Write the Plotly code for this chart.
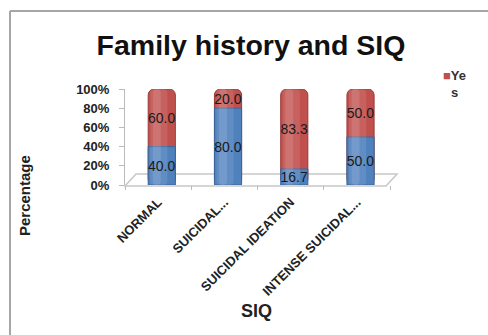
import plotly.graph_objects as go

# SIQ categories and family-history split (percent of each group)
categories = ["NORMAL", "SUICIDAL...", "SUICIDAL IDEATION", "INTENSE SUICIDAL..."]
no_history = [40.0, 80.0, 16.7, 50.0]
yes_history = [60.0, 20.0, 83.3, 50.0]
y_ticks = [0, 20, 40, 60, 80, 100]

W, H = 488, 335
L, R, T, B = 125, 98, 89, 150
PW, PH = W - L - R, H - T - B


def px(x):
    return (x - L) / PW


def py(y):
    return (H - B - y) / PH


BLUE, BLUE_EDGE = "#4F81BD", "#3A6699"
RED, RED_EDGE = "#C0504D", "#9A3A38"
FONT = "Liberation Sans, Arial, sans-serif"
BAR_W, BAR_OFF = 0.41, -0.15
RADIUS = 6

totals = [n + y for n, y in zip(no_history, yes_history)]
zeros = [0] * len(categories)

fig = go.Figure()
# cylinder bodies: full-height red column, blue "No" part drawn over its lower end
fig.add_trace(go.Bar(
    x=categories, y=totals, base=zeros, showlegend=False,
    width=BAR_W, offset=BAR_OFF,
    marker=dict(color=RED, line=dict(color=RED_EDGE, width=1), cornerradius=RADIUS),
    hoverinfo="skip",
))
fig.add_trace(go.Bar(
    x=categories, y=no_history, base=zeros, showlegend=False,
    width=BAR_W, offset=BAR_OFF,
    marker=dict(color=BLUE, line=dict(color=BLUE_EDGE, width=1), cornerradius=0),
    hoverinfo="skip",
))
# soft highlight bands give the cylinders their rounded look
for w, off, alpha in [(0.26, -0.12, 0.10), (0.12, -0.08, 0.12)]:
    fig.add_trace(go.Bar(
        x=categories, y=totals, base=zeros, showlegend=False,
        width=w, offset=off,
        marker=dict(color=f"rgba(255,255,255,{alpha})", line=dict(width=0), cornerradius=4),
        hoverinfo="skip",
    ))
# value labels centred on each segment
for name, vals, base in [("No", no_history, zeros), ("Yes", yes_history, no_history)]:
    fig.add_trace(go.Bar(
        x=categories, y=vals, base=base, name=name, showlegend=False,
        width=BAR_W, offset=BAR_OFF,
        marker=dict(color="rgba(0,0,0,0)", line=dict(width=0)),
        text=[f"{v:.1f}" for v in vals],
        textposition="inside", insidetextanchor="middle",
        constraintext="none", textangle=0,
        insidetextfont=dict(family=FONT, size=14, color="#1a1a1a"),
    ))

shapes = [
    # outer frame (top and left edges)
    dict(type="line", xref="paper", yref="paper", x0=px(10), x1=px(W), y0=py(11), y1=py(11),
         line=dict(color="#A6A6A6", width=2)),
    dict(type="line", xref="paper", yref="paper", x0=px(10), x1=px(10), y0=py(11), y1=py(H),
         line=dict(color="#A6A6A6", width=2)),
    # floor of the 3-D plot
    dict(type="path", xref="paper", yref="paper", layer="below",
         path=f"M{px(125)},{py(186)} L{px(136)},{py(174)} L{px(397)},{py(174)} L{px(386)},{py(186)} Z",
         line=dict(color="#C8C8C8", width=1.5), fillcolor="rgba(0,0,0,0)"),
]

annotations = [
    dict(text="<b>Percentage</b>", x=px(24), y=py(196), xref="paper", yref="paper",
         xanchor="center", yanchor="middle",
         textangle=-90, showarrow=False, font=dict(family=FONT, size=15, color="#222")),
    dict(text="<b>SIQ</b>", x=px(256), y=py(311), xref="paper", yref="paper",
         xanchor="center", yanchor="middle",
         showarrow=False, font=dict(family=FONT, size=18, color="#222")),
    dict(text="<span style='color:#C0504D'>■</span><b>Ye<br>s</b>", x=px(441), y=py(66),
         xref="paper", yref="paper", xanchor="left", yanchor="top", align="center",
         showarrow=False, font=dict(family=FONT, size=13, color="#333")),
]

fig.update_layout(
    width=W, height=H,
    margin=dict(l=L, r=R, t=T, b=B, autoexpand=False),
    paper_bgcolor="white", plot_bgcolor="white",
    barmode="overlay",
    uniformtext=dict(minsize=14, mode="show"),
    title=dict(text="<b>Family history and SIQ</b>", x=251 / W, y=1 - 45 / H,
               xanchor="center", yanchor="middle",
               font=dict(family=FONT, size=28.5, color="#111")),
    xaxis=dict(showgrid=False, showline=False, zeroline=False,
               tickson="boundaries", ticks="outside", ticklen=4, tickcolor="#BBBBBB",
               ticklabelstandoff=6,
               tickangle=-45, tickfont=dict(family=FONT, size=13, color="#222", weight="bold"),
               range=[-0.5, 3.5]),
    yaxis=dict(range=[0, 100], tickvals=y_ticks, ticktext=[f"{v}%" for v in y_ticks],
               showgrid=False, zeroline=False, showline=True, linecolor="#BBBBBB", linewidth=1,
               ticks="outside", ticklen=5, tickcolor="#BBBBBB", ticklabelstandoff=7,
               tickfont=dict(family=FONT, size=13, color="#222", weight="bold")),
    shapes=shapes, annotations=annotations,
    showlegend=False,
)

fig.write_html("out.html")
